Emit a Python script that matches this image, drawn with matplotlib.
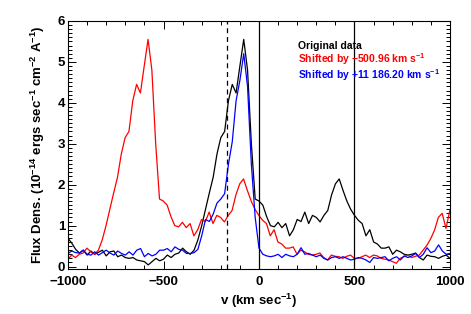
import matplotlib
matplotlib.use('Agg')
import matplotlib.pyplot as plt
from matplotlib.ticker import MultipleLocator
import numpy as np

# original spectrum, 20 km/s steps from -1000 to 1500 km/s
v_orig = np.arange(-1000, 1501, 20)
flux_orig = [0.69, 0.57, 0.42, 0.33, 0.40, 0.28, 0.38, 0.30, 0.35, 0.40,
             0.26, 0.36, 0.38, 0.24, 0.28, 0.22, 0.20, 0.22, 0.16, 0.14,
             0.12, 0.04, 0.12, 0.20, 0.14, 0.18, 0.28, 0.22, 0.30, 0.33,
             0.45, 0.36, 0.30, 0.40, 0.65, 1.00, 1.40, 1.80, 2.18, 2.75,
             3.15, 3.30, 4.05, 4.45, 4.24, 4.90, 5.55, 4.80, 3.00, 1.65,
             1.60, 1.50, 1.22, 1.00, 0.97, 1.08, 0.95, 1.05, 0.75, 0.90,
             1.15, 1.10, 1.33, 1.05, 1.25, 1.20, 1.09, 1.25, 1.37, 1.75,
             2.02, 2.14, 1.86, 1.60, 1.40, 1.25, 1.13, 1.05, 0.75, 0.90,
             0.60, 0.55, 0.45, 0.45, 0.48, 0.30, 0.40, 0.36, 0.30, 0.28,
             0.30, 0.33, 0.22, 0.16, 0.28, 0.25, 0.24, 0.20, 0.25, 0.28,
             0.20, 0.20, 0.24, 0.28, 0.22, 0.28, 0.26, 0.20, 0.18, 0.16,
             0.12, 0.08, 0.20, 0.24, 0.28, 0.22, 0.25, 0.28, 0.40, 0.52,
             0.68, 0.89, 1.20, 1.30, 0.93, 1.37]
shift_red = -500.96

# second spectrum, shifted by +11186.20 km/s
v_blue = np.arange(-1000, 1001, 20)
flux_blue = [0.32, 0.38, 0.34, 0.33, 0.40, 0.30, 0.28, 0.36, 0.28, 0.34,
             0.40, 0.33, 0.28, 0.38, 0.32, 0.28, 0.36, 0.28, 0.40, 0.44,
             0.24, 0.32, 0.26, 0.30, 0.40, 0.40, 0.44, 0.36, 0.48, 0.42,
             0.40, 0.32, 0.32, 0.34, 0.42, 0.75, 1.15, 1.10, 1.28, 1.55,
             1.65, 1.78, 2.50, 3.05, 4.05, 4.55, 5.20, 4.40, 2.50, 1.20,
             0.45, 0.30, 0.26, 0.24, 0.26, 0.30, 0.22, 0.30, 0.26, 0.24,
             0.30, 0.46, 0.30, 0.32, 0.28, 0.24, 0.28, 0.20, 0.16, 0.22,
             0.24, 0.20, 0.24, 0.20, 0.16, 0.18, 0.22, 0.20, 0.16, 0.10,
             0.22, 0.20, 0.22, 0.24, 0.14, 0.20, 0.24, 0.16, 0.26, 0.22,
             0.26, 0.32, 0.22, 0.30, 0.46, 0.34, 0.38, 0.53, 0.38, 0.30,
             0.32]

vlines_solid = [0, 500]
vline_dashed = -170

plt.rcParams['font.family'] = 'Liberation Sans'
plt.rcParams['font.weight'] = 'bold'
plt.rcParams['mathtext.fontset'] = 'custom'
plt.rcParams['mathtext.rm'] = 'Liberation Sans:bold'
plt.rcParams['mathtext.bf'] = 'Liberation Sans:bold'
plt.rcParams['mathtext.default'] = 'bf'

fig = plt.figure(figsize=(4.71, 3.14), dpi=100)
ax = fig.add_axes([0.1444, 0.1433, 0.811, 0.79])

ax.plot(v_orig, flux_orig, color='black', lw=0.9)
ax.plot(v_orig + shift_red, flux_orig, color='#ff0000', lw=0.9)
ax.plot(v_blue, flux_blue, color='#0000ff', lw=0.9)

for xv in vlines_solid:
    ax.axvline(xv, color='black', lw=0.9)
ax.axvline(vline_dashed, color='black', lw=0.9, ls=(0, (4, 3)))

ax.set_xlim(-1000, 1000)
ax.set_ylim(-0.06, 6.0)
ax.xaxis.set_major_locator(MultipleLocator(500))
ax.xaxis.set_minor_locator(MultipleLocator(100))
ax.yaxis.set_major_locator(MultipleLocator(1))
ax.yaxis.set_minor_locator(MultipleLocator(0.1))
ax.tick_params(which='both', direction='in', top=True, right=True, width=0.7)
ax.tick_params(which='major', length=6)
ax.tick_params(which='minor', length=3)
ax.tick_params(axis='x', which='major', labelsize=9.5, pad=5)
ax.tick_params(axis='y', which='major', labelsize=9.5, pad=2)
for s in ax.spines.values():
    s.set_linewidth(0.8)

ax.set_xlabel(r'v (km sec$^{-1}$)', fontsize=9.5, fontweight='bold', labelpad=3)
ax.set_ylabel(r'Flux Dens. (10$^{-14}$ ergs sec$^{-1}$ cm$^{-2}$ A$^{-1}$)',
              fontsize=9.5, fontweight='bold', labelpad=8)

ax.text(204, 5.40, 'Original data', color='black', fontsize=7.5,
        fontweight='bold', va='center')
ax.text(204, 5.06, r'Shifted by $-$500.96 km s$^{-1}$', color='#ff0000',
        fontsize=7.5, fontweight='bold', va='center')
ax.text(204, 4.68, r'Shifted by +11 186.20 km s$^{-1}$', color='#0000ff',
        fontsize=7.5, fontweight='bold', va='center')

fig.savefig('out.png', dpi=100)
